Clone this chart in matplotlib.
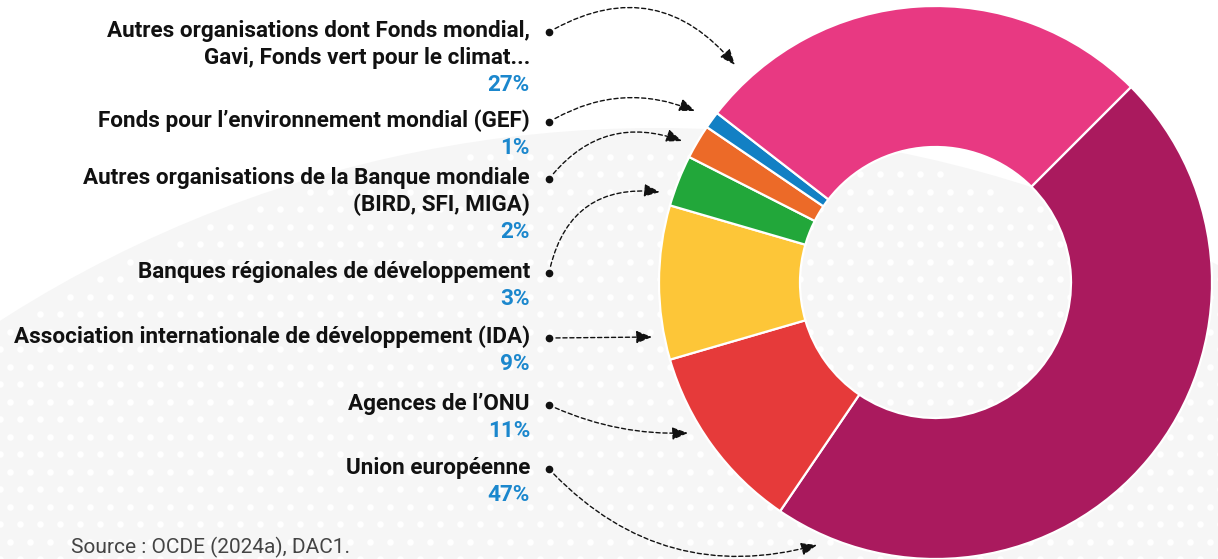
import numpy as np
import matplotlib
matplotlib.use("Agg")
import matplotlib.pyplot as plt
from matplotlib.patches import Circle, FancyArrowPatch

# data (clockwise from the top right)
names = ["Union européenne", "Agences de l’ONU",
         "Association internationale de développement (IDA)",
         "Banques régionales de développement",
         "Autres organisations de la Banque mondiale\n(BIRD, SFI, MIGA)",
         "Fonds pour l’environnement mondial (GEF)",
         "Autres organisations dont Fonds mondial,\nGavi, Fonds vert pour le climat..."]
shares = [47, 11, 9, 3, 2, 1, 27]
colors = ["#AA1A5E", "#E63A3A", "#FDC638", "#22A73A", "#EC6A28", "#1280C4", "#E83982"]

# label layout (pixels from top), arrow ends and curvature
label_base = [474, 410, 343, 278, 184, 127, 37]
arrow_end = [(817, 545), (688, 433), (652, 337), (660, 192), (682, 141), (695, 111), (735, 65)]
arrow_rad = [0.3, 0.12, 0.0, -0.45, -0.36, -0.25, -0.42]

W, H = 1218, 559
def Y(p):
    return H - p

plt.rcParams['font.family'] = ['Roboto', 'DejaVu Sans']

fig = plt.figure(figsize=(W / 100, H / 100), dpi=100)
ax = fig.add_axes([0, 0, 1, 1])

# faint dotted background disc
bg = Circle((657, Y(1344)), 1216, facecolor="#F6F6F6", edgecolor="none", zorder=0)
ax.add_patch(bg)
gx, gy = [], []
for j, yy in enumerate(np.arange(0, H + 20, 17.5)):
    off = 10 if j % 2 else 0
    for xx in np.arange(off, W + 20, 20):
        if (xx - 657) ** 2 + (yy - Y(1344)) ** 2 < 1205 ** 2:
            gx.append(xx)
            gy.append(yy)
ax.scatter(gx, gy, s=22, color="white", linewidths=0, zorder=1)

# donut
cx, cy, R = 935.5, Y(282.5), 276.5
wedges, _ = ax.pie(shares, colors=colors, startangle=45, counterclock=False,
                   center=(cx, cy), radius=R,
                   wedgeprops=dict(width=141, edgecolor="white", linewidth=1.6))
for w in wedges:
    w.set_zorder(3)

# labels, dots and arrows
xr = 530
lh = 27
fs = 16.2
for name, pct, yb, end, rad in zip(names, shares, label_base, arrow_end, arrow_rad):
    lines = name.split("\n")
    for k, line in enumerate(lines):
        ax.text(xr, Y(yb + k * lh), line, ha="right", va="baseline",
                fontsize=fs, fontweight="bold", color="#111111", zorder=5)
    ax.text(xr, Y(yb + len(lines) * lh), f"{pct}%", ha="right", va="baseline",
            fontsize=fs, fontweight="bold", color="#1B87CD", zorder=5)
    dot = (549, Y(yb - 5))
    ax.plot(*dot, "o", ms=4.5, color="#111111", zorder=6)
    arr = FancyArrowPatch(dot, (end[0], Y(end[1])),
                          connectionstyle=f"arc3,rad={rad}",
                          arrowstyle="-|>,head_length=0.95,head_width=0.38",
                          mutation_scale=10, linestyle=(0, (3, 2)), linewidth=1.0,
                          color="#111111", shrinkA=5, shrinkB=0, zorder=6)
    ax.add_patch(arr)

ax.text(71, Y(553), "Source : OCDE (2024a), DAC1.", ha="left", va="baseline",
        fontsize=15, color="#444444", zorder=5)

ax.set_xlim(0, W)
ax.set_ylim(0, H)
ax.set_aspect("equal")
ax.axis("off")

fig.savefig("out.png", dpi=100, facecolor="white")
